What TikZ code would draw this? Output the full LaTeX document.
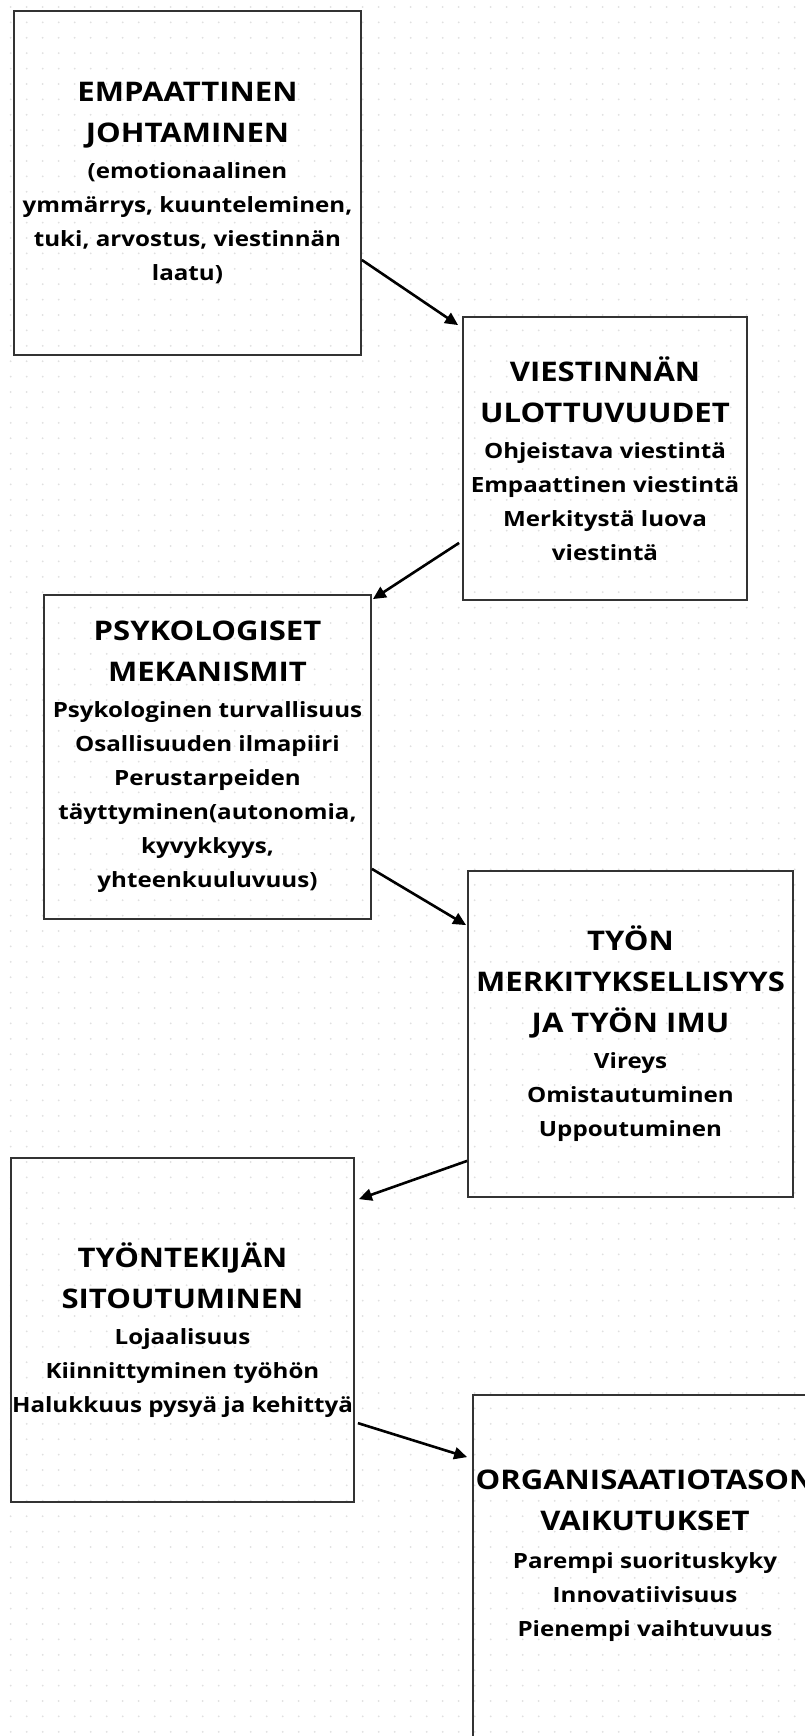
\documentclass[tikz,border=0pt]{standalone}
\usepackage{fontspec}
\setmainfont{Open Sans}[FakeStretch=1.15]
\usetikzlibrary{arrows.meta,calc}

\newcommand{\blocktitle}{\fontsize{27}{41}\selectfont}

\begin{document}
\begin{tikzpicture}[
  x=1pt,y=-1pt,
  >={Triangle[length=13pt,width=12pt]},
  block/.style={draw=black!80,line width=1.8pt,align=center,inner sep=0pt,
    font=\fontsize{21}{34}\selectfont\bfseries},
  flow/.style={->,line width=2.6pt},
  dot/.style={fill=black!12}
]
  \useasboundingbox (0,0) rectangle (804,1736);
  \fill[white] (0,0) rectangle (804,1736);
  \foreach \i in {0,...,49}
    \foreach \j in {0,...,112}
      \fill[dot] (10.7+16*\i,7+15.4*\j) circle (1pt);

  \node[block,minimum width=347pt,minimum height=344pt] (emp) at (187.5,183)
    {{\blocktitle EMPAATTINEN}\\[7pt]{\blocktitle JOHTAMINEN}\\[2pt]
     (emotionaalinen\\ymmärrys, kuunteleminen,\\tuki, arvostus, viestinnän\\laatu)};
  \node[block,minimum width=284pt,minimum height=283pt] (vies) at (605,458.5)
    {{\blocktitle VIESTINNÄN}\\[7pt]{\blocktitle ULOTTUVUUDET}\\[2pt]
     Ohjeistava viestintä\\Empaattinen viestintä\\Merkitystä luova\\viestintä};
  \node[block,minimum width=327pt,minimum height=324pt] (psyk) at (207.5,757)
    {{\blocktitle PSYKOLOGISET}\\[7pt]{\blocktitle MEKANISMIT}\\[2pt]
     Psykologinen turvallisuus\\Osallisuuden ilmapiiri\\Perustarpeiden\\
     täyttyminen(autonomia,\\kyvykkyys,\\yhteenkuuluvuus)};
  \node[block,minimum width=325pt,minimum height=326pt] (tyon) at (630.5,1034)
    {{\blocktitle TYÖN}\\[7pt]{\blocktitle MERKITYKSELLISYYS}\\[7pt]{\blocktitle JA TYÖN IMU}\\[2pt]
     Vireys\\Omistautuminen\\Uppoutuminen};
  \node[block,minimum width=343pt,minimum height=344pt] (sito) at (182.5,1330)
    {{\blocktitle TYÖNTEKIJÄN}\\[7pt]{\blocktitle SITOUTUMINEN}\\[2pt]
     Lojaalisuus\\Kiinnittyminen työhön\\Halukkuus pysyä ja kehittyä};
  \node[block,minimum width=344pt,minimum height=344pt] (org) at (645,1567)
    {{\blocktitle ORGANISAATIOTASON}\\[7pt]{\blocktitle VAIKUTUKSET}\\[4pt]
     Parempi suorituskyky\\Innovatiivisuus\\Pienempi vaihtuvuus\\[-7pt]\mbox{}};

  \draw[flow] ([yshift=-77pt]emp.east) -- ([xshift=-4pt,yshift=-9pt]vies.north west);
  \draw[flow] ([xshift=-3pt,yshift=58pt]vies.south west) -- ([xshift=1pt,yshift=-5pt]psyk.north east);
  \draw[flow] ([yshift=51pt]psyk.south east) -- ([xshift=-1pt,yshift=-55pt]tyon.north west);
  \draw[flow] ([yshift=37pt]tyon.south west) -- ([xshift=4pt,yshift=-42pt]sito.north east);
  \draw[flow] ([xshift=3pt,yshift=-266pt]sito.north east) -- ([xshift=-5pt,yshift=-63pt]org.north west);
\end{tikzpicture}
\end{document}
